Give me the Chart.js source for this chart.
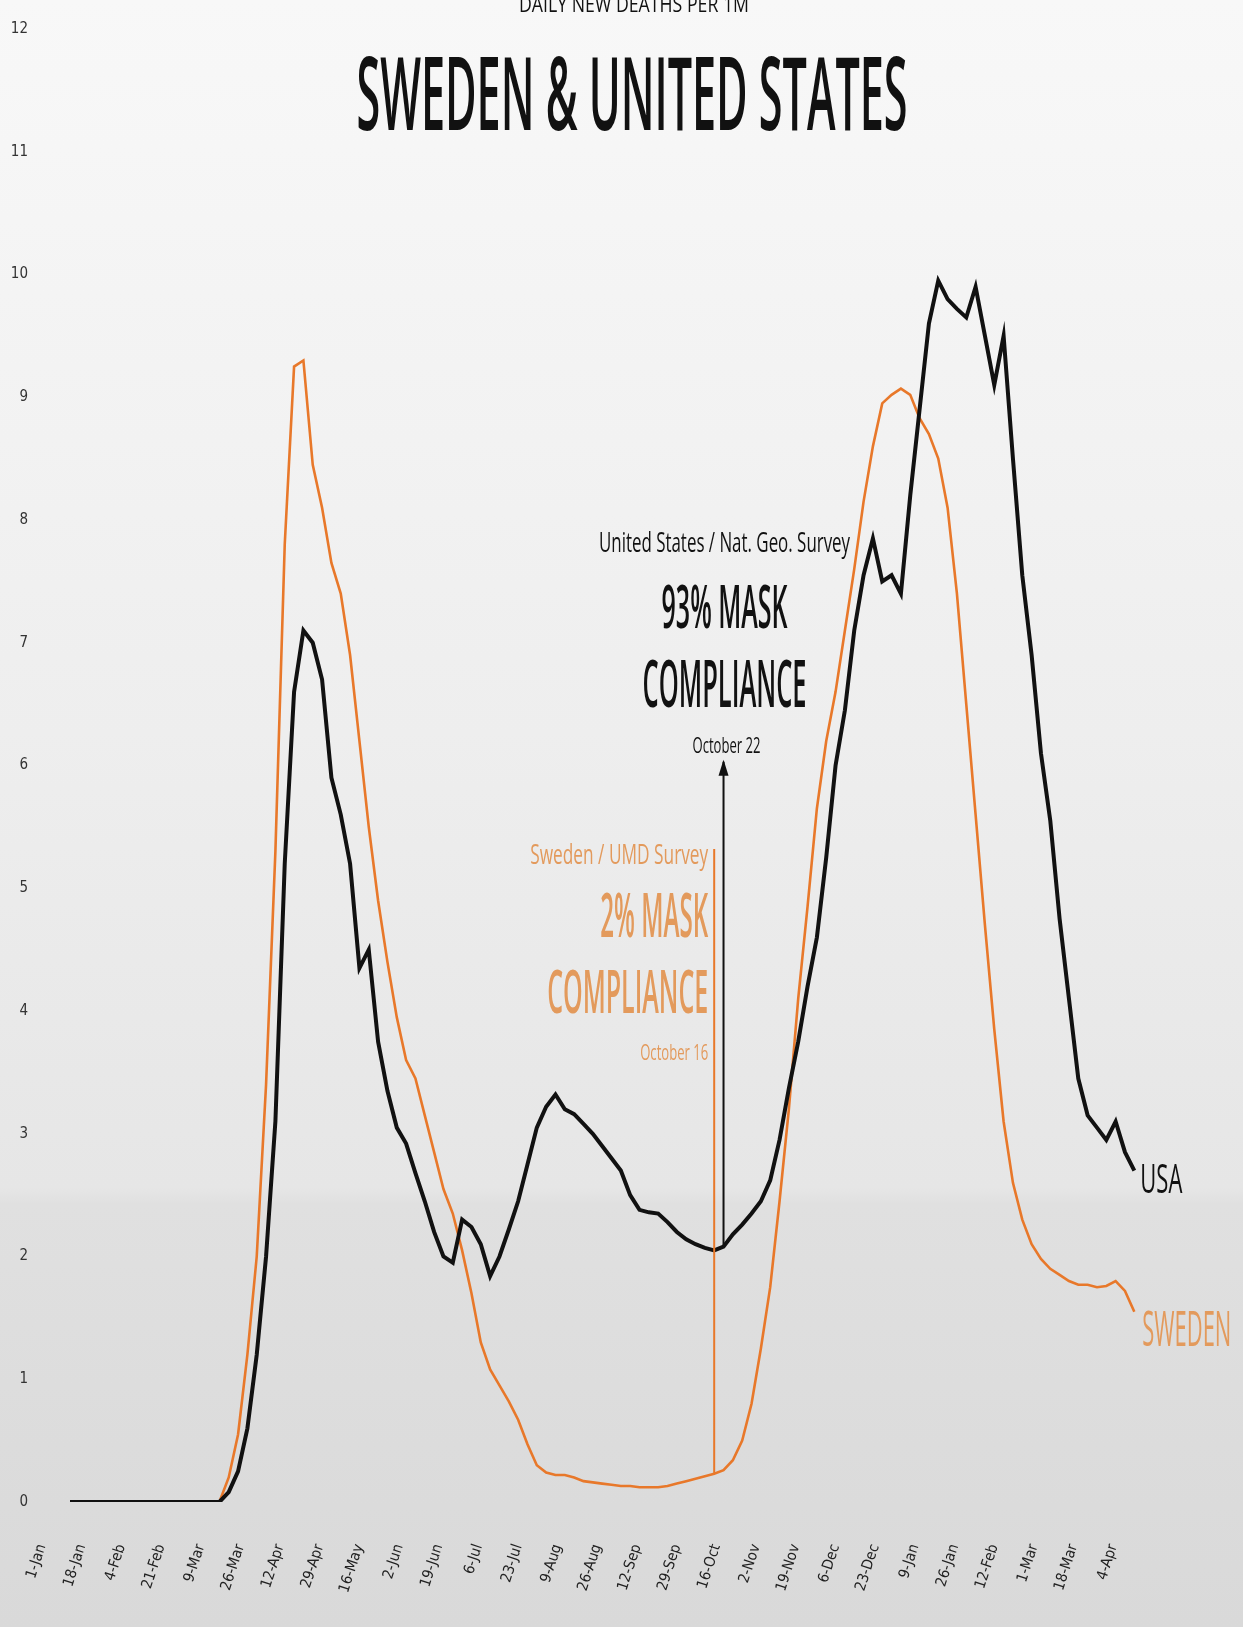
<!DOCTYPE html>
<html>
<head>
<meta charset="utf-8">
<title>Sweden &amp; United States - daily new deaths per 1M</title>
<script src="https://cdn.jsdelivr.net/npm/chart.js@4.4.1/dist/chart.umd.min.js"></script>
<style>
  html, body { margin: 0; padding: 0; }
  body {
    width: 1243px;
    height: 1627px;
    overflow: hidden;
    background: linear-gradient(to bottom, #f8f8f8 0%, #eeeeee 45%, #e6e6e6 73%, #e0e0e0 74%, #d9d9d9 100%);
  }
  canvas { display: block; }
</style>
</head>
<body>
<canvas id="deathsChart" width="1243" height="1627"></canvas>
<script>
// x axis is "days since 1-Jan-2020", one reading every 4 days
const firstDay = 12;
const dayStep = 4;

// daily new deaths per 1M (7-day avg)
const sweden = [
  0, 0, 0, 0, 0, 0, 0, 0, 0, 0, 0, 0, 0, 0, 0, 0, 0,
  0.2, 0.55, 1.2, 2.0, 3.4, 5.3, 7.8, 9.25, 9.3, 8.45, 8.1, 7.65, 7.4, 6.9,
  6.2, 5.5, 4.9, 4.4, 3.95, 3.6, 3.45, 3.15, 2.85, 2.55, 2.35, 2.05, 1.7, 1.3,
  1.08, 0.95, 0.82, 0.67, 0.47, 0.3, 0.24, 0.22, 0.22, 0.2, 0.17, 0.16, 0.15, 0.14,
  0.13, 0.13, 0.12, 0.12, 0.12, 0.13, 0.15, 0.17, 0.19, 0.21, 0.23, 0.26, 0.34, 0.5,
  0.8, 1.25, 1.75, 2.45, 3.2, 4.1, 4.85, 5.65, 6.2, 6.6, 7.1, 7.6, 8.15, 8.6,
  8.95, 9.02, 9.07, 9.02, 8.83, 8.7, 8.5, 8.1, 7.4, 6.5, 5.6, 4.7, 3.85, 3.1,
  2.6, 2.3, 2.1, 1.98, 1.9, 1.85, 1.8, 1.77, 1.77, 1.75, 1.76, 1.8, 1.72, 1.55,
];

const usa = [
  0, 0, 0, 0, 0, 0, 0, 0, 0, 0, 0, 0, 0, 0, 0, 0, 0,
  0.08, 0.25, 0.6, 1.2, 2.0, 3.1, 5.2, 6.6, 7.1, 7.0, 6.7, 5.9, 5.6, 5.2,
  4.35, 4.5, 3.75, 3.35, 3.05, 2.92, 2.68, 2.45, 2.2, 2.0, 1.95, 2.3, 2.24, 2.1,
  1.84, 2.0, 2.22, 2.45, 2.75, 3.05, 3.22, 3.32, 3.2, 3.16, 3.08, 3.0, 2.9, 2.8,
  2.7, 2.5, 2.38, 2.36, 2.35, 2.28, 2.2, 2.14, 2.1, 2.07, 2.05, 2.08, 2.18, 2.26,
  2.35, 2.45, 2.62, 2.95, 3.37, 3.75, 4.2, 4.6, 5.25, 6.0, 6.45, 7.1, 7.55, 7.85,
  7.5, 7.55, 7.4, 8.2, 8.9, 9.6, 9.95, 9.8, 9.72, 9.65, 9.9, 9.5, 9.1, 9.5,
  8.5, 7.55, 6.9, 6.1, 5.55, 4.75, 4.1, 3.45, 3.15, 3.05, 2.95, 3.1, 2.85, 2.7,
];

// x tick labels, one every 17 days
const tickStep = 17;
const tickLabels = [
  "1-Jan", "18-Jan", "4-Feb", "21-Feb", "9-Mar", "26-Mar", "12-Apr", "29-Apr",
  "16-May", "2-Jun", "19-Jun", "6-Jul", "23-Jul", "9-Aug", "26-Aug", "12-Sep",
  "29-Sep", "16-Oct", "2-Nov", "19-Nov", "6-Dec", "23-Dec", "9-Jan", "26-Jan",
  "12-Feb", "1-Mar", "18-Mar", "4-Apr",
];

// survey markers: [sweden, usa]
const annotDays = [288, 292];
const annotTops = [5.32, 6.03];

const days = usa.map((v, i) => firstDay + i * dayStep);
const toPoints = (values) => values.map((v, i) => ({ x: days[i], y: v }));

const ORANGE = "#e8782a";
const ORANGE_TEXT = "#e39a5c";
const TEXT_FONT = '"Open Sans", "Noto Sans", sans-serif';
const NARROW_FONT = '"Liberation Sans Narrow", "DejaVu Sans Condensed", "Open Sans", sans-serif';

// the original uses a very condensed face, so squeeze the text to its width
function fitText(ctx, text, x, y, size, width, color, align, weight) {
  ctx.save();
  ctx.font = `${weight || "normal"} ${size}px ${TEXT_FONT}`;
  const w = ctx.measureText(text).width;
  ctx.translate(x, y);
  ctx.scale(width / w, 1);
  ctx.fillStyle = color;
  ctx.textAlign = align;
  ctx.textBaseline = "alphabetic";
  ctx.fillText(text, 0, 0);
  ctx.restore();
}

const annotationsPlugin = {
  id: "annotations",
  afterDatasetsDraw(chart) {
    const { ctx } = chart;
    const x = chart.scales.x;
    const y = chart.scales.y;
    const series = [sweden, usa];
    const colors = [ORANGE, "#111111"];

    // vertical survey lines, from label down to the curve
    const px = annotDays.map((d) => x.getPixelForValue(d));
    annotDays.forEach((d, k) => {
      const i = days.indexOf(d);
      const top = y.getPixelForValue(annotTops[k]);
      ctx.save();
      ctx.strokeStyle = colors[k];
      ctx.lineWidth = 2;
      ctx.beginPath();
      ctx.moveTo(px[k], top);
      ctx.lineTo(px[k], y.getPixelForValue(series[k][i]));
      ctx.stroke();
      if (k === 1) {
        ctx.fillStyle = colors[k];
        ctx.beginPath();
        ctx.moveTo(px[k], top - 2);
        ctx.lineTo(px[k] - 5, top + 14);
        ctx.lineTo(px[k] + 5, top + 14);
        ctx.closePath();
        ctx.fill();
      }
      ctx.restore();
    });

    // United States block, centred on its line
    const ux = px[1] + 1;
    fitText(ctx, "United States / Nat. Geo. Survey", ux, 552, 28, 251, "#111", "center");
    fitText(ctx, "93% MASK", ux, 628, 60, 126, "#111", "center", "600");
    fitText(ctx, "COMPLIANCE", ux, 707, 65, 164, "#111", "center", "600");
    fitText(ctx, "October 22", ux + 2, 753, 21, 68, "#111", "center");

    // Sweden block, right aligned against its line
    const sx = px[0] - 6;
    fitText(ctx, "Sweden / UMD Survey", sx, 864, 28, 178, ORANGE_TEXT, "right");
    fitText(ctx, "2% MASK", sx, 937, 62, 108, ORANGE_TEXT, "right", "600");
    fitText(ctx, "COMPLIANCE", sx, 1013, 60, 161, ORANGE_TEXT, "right", "600");
    fitText(ctx, "October 16", sx, 1060, 21, 68, ORANGE_TEXT, "right");

    // series names at the end of each line
    const last = days.length - 1;
    const ex = x.getPixelForValue(days[last]);
    fitText(ctx, "USA", ex + 6, y.getPixelForValue(usa[last]) + 22, 40, 42, "#111", "left");
    fitText(ctx, "SWEDEN", ex + 8, y.getPixelForValue(sweden[last]) + 34, 50, 89, ORANGE_TEXT, "left");

    // titles
    fitText(ctx, "DAILY NEW DEATHS PER 1M", 634, 12, 22, 230, "#111", "center");
    fitText(ctx, "SWEDEN & UNITED STATES", 632, 130, 102, 551, "#111", "center", "600");
  },
};

const ctx = document.getElementById("deathsChart").getContext("2d");
new Chart(ctx, {
  type: "line",
  data: {
    datasets: [
      {
        label: "USA",
        data: toPoints(usa),
        borderColor: "#111111",
        borderWidth: 4,
        pointRadius: 0,
        tension: 0,
      },
      {
        label: "Sweden",
        data: toPoints(sweden),
        borderColor: ORANGE,
        borderWidth: 2.6,
        pointRadius: 0,
        tension: 0,
      },
    ],
  },
  options: {
    responsive: false,
    animation: false,
    layout: {
      padding: { top: 29, right: 34, left: 0, bottom: 0 },
    },
    plugins: {
      legend: { display: false },
      tooltip: { enabled: false },
      title: { display: false },
    },
    scales: {
      x: {
        type: "linear",
        min: 0,
        max: 500,
        // invisible tick marks push the labels down without widening the left padding
        grid: {
          display: true,
          drawOnChartArea: false,
          drawTicks: true,
          tickLength: 38,
          color: "rgba(0,0,0,0)",
        },
        border: { display: false },
        afterBuildTicks: (scale) => {
          scale.ticks = tickLabels.map((t, i) => ({ value: i * tickStep }));
        },
        afterFit: (scale) => {
          scale.height = 125;
        },
        ticks: {
          autoSkip: false,
          minRotation: 72,
          maxRotation: 72,
          padding: 2,
          color: "#222",
          font: { family: NARROW_FONT, size: 15 },
          callback: (value, index) => tickLabels[index],
        },
      },
      y: {
        min: 0,
        max: 12,
        grid: { display: false, drawTicks: false },
        border: { display: false },
        afterFit: (scale) => {
          scale.width = 42;
        },
        ticks: {
          stepSize: 1,
          padding: 14,
          color: "#333",
          font: { family: NARROW_FONT, size: 15 },
        },
      },
    },
  },
  plugins: [annotationsPlugin],
});
</script>
</body>
</html>
